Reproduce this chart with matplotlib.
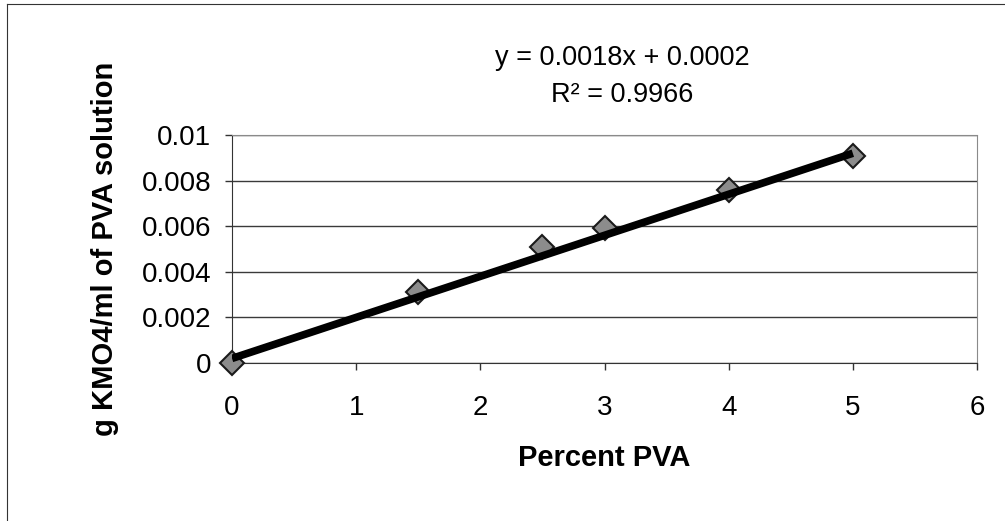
import numpy as np
from matplotlib import pyplot as plt
from matplotlib.lines import Line2D

# data
percent_pva = [0, 1.5, 2.5, 3, 4, 5]
g_kmo4_per_ml = [0.0, 0.0031, 0.0051, 0.0059, 0.0076, 0.0091]

# trendline as printed on the chart
slope = 0.0018
intercept = 0.0002
r_squared = 0.9966

x_ticks = [0, 1, 2, 3, 4, 5, 6]
y_ticks = [0, 0.002, 0.004, 0.006, 0.008, 0.01]
y_tick_labels = ["0", "0.002", "0.004", "0.006", "0.008", "0.01"]

plt.rcParams['font.family'] = ['Liberation Sans', 'DejaVu Sans']

fig = plt.figure(figsize=(10.05, 5.21), dpi=100)
ax = fig.add_axes([232 / 1005, 1 - 363 / 521, 745 / 1005, 228 / 521])

# horizontal grid
ax.set_axisbelow(True)
ax.yaxis.grid(True, color="#3a3a3a", linewidth=1.0)

# data points
ax.plot(percent_pva, g_kmo4_per_ml, linestyle="none", marker="D",
        markersize=12, markerfacecolor="#8c8c8c", markeredgecolor="#1a1a1a",
        markeredgewidth=1.5, zorder=3, clip_on=False)

# trendline, drawn over the markers as in the scan
fit_x = np.array([min(percent_pva), max(percent_pva)])
ax.plot(fit_x, slope * fit_x + intercept, color="black", linewidth=5.5,
        solid_capstyle="butt", zorder=4)

ax.set_xlim(0, 6)
ax.set_ylim(0, 0.01)
ax.set_xticks(x_ticks)
ax.set_yticks(y_ticks)
ax.set_yticklabels(y_tick_labels)

ax.tick_params(axis="y", direction="out", length=5, width=1, pad=10,
               labelsize=20, color="#333333")
ax.tick_params(axis="x", direction="out", length=5, width=1, pad=18,
               labelsize=20, color="#333333")

for side in ["top", "right"]:
    ax.spines[side].set_color("#8a8a8a")
    ax.spines[side].set_linestyle((0, (1, 1)))
for side in ["left", "bottom"]:
    ax.spines[side].set_color("#333333")
    ax.spines[side].set_linestyle((0, (1, 1)))

ax.set_xlabel("Percent PVA", fontsize=21, fontweight="bold")
ax.set_ylabel("g KMO4/ml of PVA solution", fontsize=21, fontweight="bold")
ax.xaxis.set_label_coords(0.5, -0.355)
ax.yaxis.set_label_coords(-0.152, 0.5)

fig.text(622 / 1005, 1 - 65 / 521, "y = %.4fx + %.4f" % (slope, intercept),
         ha="center", va="baseline", fontsize=19.5)
fig.text(622 / 1005, 1 - 102 / 521, "R² = %.4f" % r_squared,
         ha="center", va="baseline", fontsize=19.5)

# chart area border (left and top edges visible in the scan)
fig.add_artist(Line2D([7 / 1005, 7 / 1005], [0, 1 - 4 / 521],
                      transform=fig.transFigure, color="#333333", linewidth=0.8))
fig.add_artist(Line2D([7 / 1005, 1], [1 - 4 / 521, 1 - 4 / 521],
                      transform=fig.transFigure, color="#333333", linewidth=0.8))

fig.savefig("out.png", dpi=100)
